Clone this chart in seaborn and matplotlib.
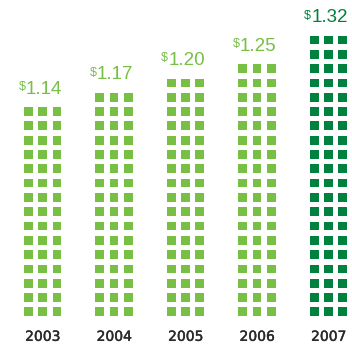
import matplotlib
matplotlib.use("Agg")
import matplotlib.pyplot as plt
import matplotlib.patheffects as pe
import numpy as np
import pandas as pd
import seaborn as sns

# Dividends per share by year, shown as stacks of squares
years = ["2003", "2004", "2005", "2006", "2007"]
values = [1.14, 1.17, 1.20, 1.25, 1.32]
rows = [15, 16, 17, 18, 20]
highlight = [False, False, False, False, True]

LIGHT = "#77bf45"
DARK = "#00823e"
YEAR_COLOR = "#2a2a2a"
COLS_PER_STACK = 3
STACK_STEP = 5  # grid units between stacks

# expand every stack into individual grid cells
records = []
for i, (yr, n, hl) in enumerate(zip(years, rows, highlight)):
    for r in range(n):
        for c in range(COLS_PER_STACK):
            records.append({"x": i * STACK_STEP + c, "y": r, "year": yr,
                            "group": "current" if hl else "past"})
df = pd.DataFrame(records)

sns.set_style("white")
fig = plt.figure(figsize=(3.52, 3.47), dpi=100)
ax = fig.add_axes([0, 0, 1, 1])

sns.scatterplot(data=df, x="x", y="y", hue="group",
                palette={"past": LIGHT, "current": DARK},
                marker="s", s=40, linewidth=0, legend=False, ax=ax)

ax.set_xlim(-1.98, 22.64)
ax.set_ylim(-2.46, 21.80)
ax.axis("off")

for i, (yr, v, n, hl) in enumerate(zip(years, values, rows, highlight)):
    cx = i * STACK_STEP + 1
    color = DARK if hl else LIGHT
    # year below the stack
    ax.annotate(yr, xy=(cx, 0), xytext=(0, -29), textcoords="offset pixels",
                ha="center", va="baseline", fontsize=10, color=YEAR_COLOR,
                family="DejaVu Sans",
                path_effects=[pe.withStroke(linewidth=0.3, foreground=YEAR_COLOR)])
    # value above the stack, with a small raised dollar sign
    num = ax.annotate(f"{v:.2f}", xy=(cx, n - 1), xytext=(1, 18),
                      textcoords="offset pixels", ha="center", va="baseline",
                      fontsize=13.5, color=color, family="Liberation Sans")
    ax.annotate("$", xy=(0, 0.97), xycoords=num, xytext=(0, 0),
                textcoords="offset pixels", ha="right", va="top",
                fontsize=9, color=color, family="Liberation Sans")

fig.savefig("out.png", dpi=100)
